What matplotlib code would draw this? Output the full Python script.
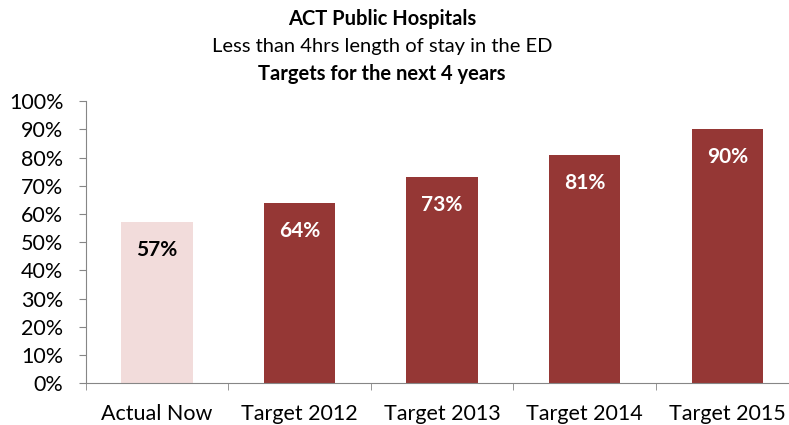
import matplotlib
matplotlib.use("Agg")
import matplotlib.pyplot as plt
import numpy as np

# chart data
categories = ["Actual Now", "Target 2012", "Target 2013", "Target 2014", "Target 2015"]
values = [57, 64, 73, 81, 90]
barColors = ["#F2DCDB", "#953735", "#953735", "#953735", "#953735"]
labelColors = ["black", "white", "white", "white", "white"]

plt.rcParams['font.family'] = ['Lato', 'DejaVu Sans']

fig = plt.figure(figsize=(7.89, 4.25), dpi=100)
ax = fig.add_axes([0.1085, 0.098, 0.9037, 0.664])

x = np.arange(len(categories))
ax.bar(x, values, width=0.5, color=barColors)

for i in range(len(values)):
    ax.annotate(str(values[i]) + "%", (x[i], values[i]), xytext=(0, -20),
                textcoords="offset points", ha="center", va="center",
                fontsize=15, fontweight="bold", color=labelColors[i])

ax.set_xlim(-0.5, len(categories) - 0.5)
ax.set_ylim(0, 100)
ax.set_yticks(range(0, 101, 10))
ax.set_yticklabels([str(v) + "%" for v in range(0, 101, 10)], fontsize=15.5)
ax.set_xticks(x)
ax.set_xticklabels(categories, fontsize=15.5)
ax.set_xticks(np.arange(-0.5, len(categories), 1), minor=True)
ax.tick_params(axis='x', which='major', length=0, pad=15)
ax.tick_params(axis='x', which='minor', length=5, color='#868686')
ax.tick_params(axis='y', length=5, color='#868686', pad=11)

ax.spines['top'].set_visible(False)
ax.spines['right'].set_visible(False)
ax.spines['left'].set_color('#868686')
ax.spines['bottom'].set_color('#868686')

fig.text(0.484, 0.955, "ACT Public Hospitals", ha="center", va="center", fontsize=14.5, fontweight="bold")
fig.text(0.484, 0.890, "Less than 4hrs length of stay in the ED", ha="center", va="center", fontsize=14.5)
fig.text(0.484, 0.826, "Targets for the next 4 years", ha="center", va="center", fontsize=14.5, fontweight="bold")

plt.savefig("out.png", dpi=100)
